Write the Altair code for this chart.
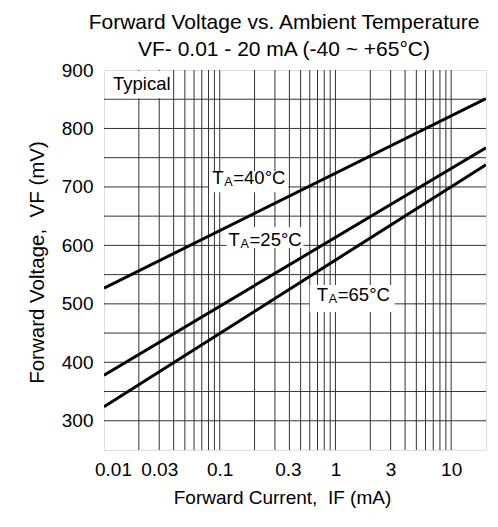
import altair as alt
import pandas as pd

FONT = "Liberation Sans"

# ---- data ----
current_ends = [0.01, 20]              # mA, x at start / end of each line
vf_40 = [527, 851]                     # mV
vf_25 = [378, 767]
vf_65 = [324, 738]
series = ["TA=40°C", "TA=25°C", "TA=65°C"]

x_grid = [0.02, 0.03, 0.04, 0.05, 0.06, 0.07, 0.08, 0.09,
          0.1, 0.2, 0.3, 0.4, 0.5, 0.6, 0.7, 0.8, 0.9,
          1, 2, 3, 4, 5, 6, 7, 8, 9, 10]
x_labels = [0.01, 0.03, 0.1, 0.3, 1, 3, 10]
y_grid = [300, 350, 400, 450, 500, 550, 600, 650, 700, 750, 800, 850]
y_labels = [300, 400, 500, 600, 700, 800, 900]

label_temps = ["=40°C", "=25°C", "=65°C"]
label_x = [0.180, 0.249, 1.44]
label_y = [704.5, 599, 505]

typical_box_x = [0.01, 0.04]
typical_box_y = [850, 900]

# ---- tables ----
rows = []
for name, vals in zip(series, [vf_40, vf_25, vf_65]):
    for i, v in zip(current_ends, vals):
        rows.append({"I": i, "V": v, "series": name})
lines_df = pd.DataFrame(rows)

labels_df = pd.DataFrame({"I": label_x, "V": label_y, "txt": label_temps})
typical_df = pd.DataFrame({"I": [typical_box_x[0]], "I2": [typical_box_x[1]],
                           "V": [typical_box_y[0]], "V2": [typical_box_y[1]],
                           "txt": ["Typical"]})
xgrid_df = pd.DataFrame({"I": x_grid})
ygrid_df = pd.DataFrame({"V": y_grid})

xscale = alt.Scale(type="log", domain=[0.01, 20], nice=False)
yscale = alt.Scale(domain=[250, 900], nice=False, zero=False)

xaxis = alt.Axis(
    values=x_labels, grid=False, ticks=False, tickSize=0, domain=False,
    labelExpr="format(datum.value, '~g')",
    labelOffset={"condition": [{"test": "datum.value === 0.01", "value": 9},
                               {"test": "datum.value === 0.3", "value": 13}],
                 "value": 0},
    labelFont=FONT, labelFontSize=19, labelColor="black", labelPadding=10,
    labelOverlap=False, labelFlush=False,
    title="Forward Current,\u00a0 IF (mA)", titleFont=FONT, titleFontSize=19,
    titleFontWeight="normal", titleColor="black",
    titleX=178, titleY=53, titleBaseline="alphabetic", titleAlign="center",
)
yaxis = alt.Axis(
    values=y_labels, grid=False, ticks=False, tickSize=0, domain=False,
    labelExpr="format(datum.value, 'd')",
    labelFont=FONT, labelFontSize=19, labelColor="black", labelPadding=11,
    labelOverlap=False,
    title="Forward Voltage,\u00a0 VF (mV)", titleFont=FONT, titleFontSize=20.5,
    titleFontWeight="normal", titleColor="black",
    titleAngle=270, titleX=-61, titleY=192, titleBaseline="alphabetic",
    titleAlign="center",
)

X = alt.X("I:Q", scale=xscale, axis=xaxis)
Y = alt.Y("V:Q", scale=yscale, axis=yaxis)

GRID = "#333333"

vgrid = alt.Chart(xgrid_df).mark_rule(color=GRID, strokeWidth=1).encode(x=X)
hgrid = alt.Chart(ygrid_df).mark_rule(color=GRID, strokeWidth=1).encode(y=Y)

typ_rect = alt.Chart(typical_df).mark_rect(
    color="white", xOffset=1, x2Offset=-1, yOffset=-1, y2Offset=1
).encode(x=X, x2="I2:Q", y=Y, y2="V2:Q")

typ_text = alt.Chart(typical_df).mark_text(
    font=FONT, fontSize=18.5, color="black", align="left", baseline="alphabetic",
    dx=9, dy=-9
).encode(x=X, y=Y, text="txt:N")

lines = alt.Chart(lines_df).mark_line(
    color="black", strokeWidth=3, clip=True
).encode(x=X, y=Y, detail="series:N")

# label boxes: (left, right, top, bottom) offsets from the anchor, per label
box_offsets = [(-40, 39, -13, 8), (-39, 38, -19, 2), (-44, 41, -16, 11)]
label_layers = []
for k, (l, r, t, b) in enumerate(box_offsets):
    d = labels_df.iloc[[k]]
    label_layers.append(
        alt.Chart(d).mark_rect(color="white", xOffset=l, x2Offset=r,
                               yOffset=t, y2Offset=b)
        .encode(x=X, x2="I:Q", y=Y, y2="V:Q"))
    label_layers.append(
        alt.Chart(d).mark_text(font=FONT, fontSize=18.5, color="black",
                               align="left", baseline="alphabetic", dx=-37)
        .encode(x=X, y=Y, text=alt.value("T")))
    label_layers.append(
        alt.Chart(d).mark_text(font=FONT, fontSize=12.5, color="black",
                               align="left", baseline="alphabetic", dx=-25, dy=2)
        .encode(x=X, y=Y, text=alt.value("A")))
    label_layers.append(
        alt.Chart(d).mark_text(font=FONT, fontSize=18.5, color="black",
                               align="left", baseline="alphabetic", dx=-16)
        .encode(x=X, y=Y, text="txt:N"))

chart = alt.layer(vgrid, hgrid, typ_rect, typ_text, *label_layers, lines).properties(
    width=382, height=380,
    autosize=alt.AutoSizeParams(type="none"),
    padding={"left": 96, "top": 62, "right": 4, "bottom": 69},
    title=alt.TitleParams(
        text=["Forward Voltage vs. Ambient Temperature",
              "VF- 0.01 - 20 mA (-40 ~ +65°C)"],
        font=FONT, fontSize=21, fontWeight="normal", color="black",
        lineHeight=27.5, anchor="middle", dx=-11, offset=1,
    ),
).configure_view(stroke="black", strokeWidth=2).configure(background="white")

chart.save("out.html", embed_options={"renderer": "svg", "actions": False})
